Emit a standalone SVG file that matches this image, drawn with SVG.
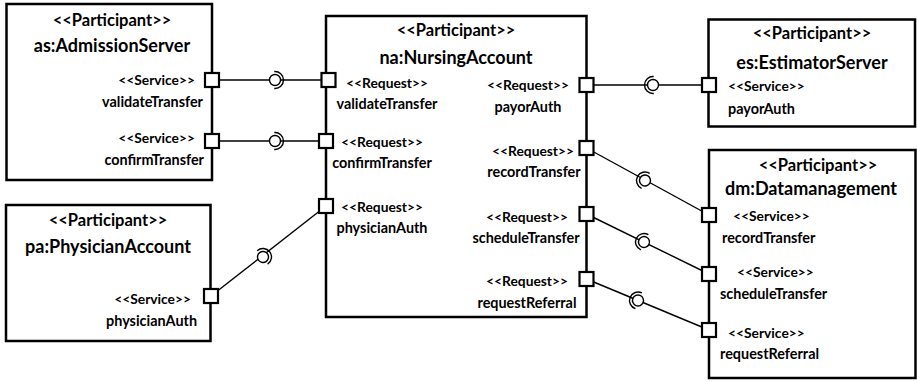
<svg xmlns="http://www.w3.org/2000/svg" xmlns:xlink="http://www.w3.org/1999/xlink" width="917" height="382" viewBox="0 0 917 382">
<style>
.box{fill:#fff;stroke:#000;stroke-width:2.5}
.port{fill:#fff;stroke:#000;stroke-width:2.2}
.wire{fill:none;stroke:#000;stroke-width:1.4}
text{font-family:Lato,"Liberation Sans",Arial,sans-serif;font-weight:bold;fill:#000}
.title{font-size:18px;text-anchor:middle}
.pt{font-size:16.5px;text-anchor:middle}
.st{font-size:13.8px}
.nm{font-size:14.4px}
.m{text-anchor:middle}
.e{text-anchor:end}
.s{text-anchor:start}
</style>
<defs>
<g id="bs">
<path d="M-0.74,-8.47 A8.5,8.5 0 1 1 -0.74,8.47" fill="none" stroke="#000" stroke-width="1.4"/>
<circle cx="0" cy="0" r="5.5" fill="#fff" stroke="#000" stroke-width="1.4"/>
</g>
</defs>
<g id="connectors">
<line class="wire" x1="212" y1="80" x2="328" y2="80"/>
<use xlink:href="#bs" transform="translate(275,80)"/>
<line class="wire" x1="212" y1="141" x2="326" y2="141"/>
<use xlink:href="#bs" transform="translate(275,141)"/>
<line class="wire" x1="211" y1="296" x2="326" y2="206"/>
<use xlink:href="#bs" transform="translate(263,257) rotate(-38)"/>
<line class="wire" x1="586.5" y1="85" x2="709" y2="85"/>
<use xlink:href="#bs" transform="translate(653,85) rotate(180)"/>
<line class="wire" x1="586.5" y1="148" x2="709" y2="215"/>
<use xlink:href="#bs" transform="translate(645,180.5) rotate(208.6)"/>
<line class="wire" x1="586.5" y1="214" x2="709" y2="274"/>
<use xlink:href="#bs" transform="translate(644,242) rotate(206)"/>
<line class="wire" x1="586.5" y1="279" x2="709" y2="330"/>
<use xlink:href="#bs" transform="translate(638,300.5) rotate(202.5)"/>
</g>
<g id="as">
<rect class="box" x="6.5" y="4" width="205.5" height="176"/>
<text class="pt" x="112" y="26">&lt;&lt;Participant&gt;&gt;</text>
<text class="title" x="112" y="52">as:AdmissionServer</text>
<text class="st e" x="195" y="85">&lt;&lt;Service&gt;&gt;</text>
<text class="nm e" x="203" y="107">validateTransfer</text>
<text class="st e" x="195" y="143">&lt;&lt;Service&gt;&gt;</text>
<text class="nm e" x="204" y="165">confirmTransfer</text>
<rect class="port" x="205" y="73" width="14" height="14"/>
<rect class="port" x="205" y="134" width="14" height="14"/>
</g>
<g id="pa">
<rect class="box" x="6" y="205" width="204.5" height="136"/>
<text class="pt" x="108" y="226">&lt;&lt;Participant&gt;&gt;</text>
<text class="title" x="108" y="253">pa:PhysicianAccount</text>
<text class="st e" x="191" y="304">&lt;&lt;Service&gt;&gt;</text>
<text class="nm e" x="197" y="326">physicianAuth</text>
<rect class="port" x="204" y="289" width="14" height="14"/>
</g>
<g id="na">
<rect class="box" x="326" y="16" width="260.5" height="301"/>
<text class="pt" x="456" y="36">&lt;&lt;Participant&gt;&gt;</text>
<text class="title" x="456" y="64">na:NursingAccount</text>
<text class="st m" x="387" y="88">&lt;&lt;Request&gt;&gt;</text>
<text class="nm m" x="387" y="109">validateTransfer</text>
<text class="st m" x="382" y="147">&lt;&lt;Request&gt;&gt;</text>
<text class="nm m" x="382" y="168">confirmTransfer</text>
<text class="st m" x="382" y="212">&lt;&lt;Request&gt;&gt;</text>
<text class="nm m" x="382" y="233">physicianAuth</text>
<text class="st m" x="528" y="90">&lt;&lt;Request&gt;&gt;</text>
<text class="nm m" x="528" y="112">payorAuth</text>
<text class="st m" x="533" y="156">&lt;&lt;Request&gt;&gt;</text>
<text class="nm m" x="534" y="177">recordTransfer</text>
<text class="st m" x="527" y="222">&lt;&lt;Request&gt;&gt;</text>
<text class="nm m" x="526" y="243">scheduleTransfer</text>
<text class="st m" x="527" y="286">&lt;&lt;Request&gt;&gt;</text>
<text class="nm m" x="527" y="308">requestReferral</text>
<rect class="port" x="321.5" y="73" width="14" height="14"/>
<rect class="port" x="319" y="134" width="14" height="14"/>
<rect class="port" x="319" y="199" width="14" height="14"/>
<rect class="port" x="579.5" y="78" width="14" height="14"/>
<rect class="port" x="579.5" y="141" width="14" height="14"/>
<rect class="port" x="579.5" y="207" width="14" height="14"/>
<rect class="port" x="579.5" y="272" width="14" height="14"/>
</g>
<g id="es">
<rect class="box" x="708.5" y="19.5" width="206.5" height="107"/>
<text class="pt" x="812" y="39">&lt;&lt;Participant&gt;&gt;</text>
<text class="title" x="812" y="69">es:EstimatorServer</text>
<text class="st s" x="728" y="91">&lt;&lt;Service&gt;&gt;</text>
<text class="nm s" x="728" y="114">payorAuth</text>
<rect class="port" x="702" y="78" width="14" height="14"/>
</g>
<g id="dm">
<rect class="box" x="709" y="150" width="206.5" height="228"/>
<text class="pt" x="818" y="171">&lt;&lt;Participant&gt;&gt;</text>
<text class="title" x="811" y="195">dm:Datamanagement</text>
<text class="st s" x="733" y="221">&lt;&lt;Service&gt;&gt;</text>
<text class="nm s" x="722" y="243">recordTransfer</text>
<text class="st s" x="737" y="277">&lt;&lt;Service&gt;&gt;</text>
<text class="nm s" x="720" y="299">scheduleTransfer</text>
<text class="st s" x="728" y="338">&lt;&lt;Service&gt;&gt;</text>
<text class="nm s" x="720" y="359">requestReferral</text>
<rect class="port" x="702" y="208" width="14" height="14"/>
<rect class="port" x="702" y="267" width="14" height="14"/>
<rect class="port" x="702" y="323" width="14" height="14"/>
</g>
</svg>
